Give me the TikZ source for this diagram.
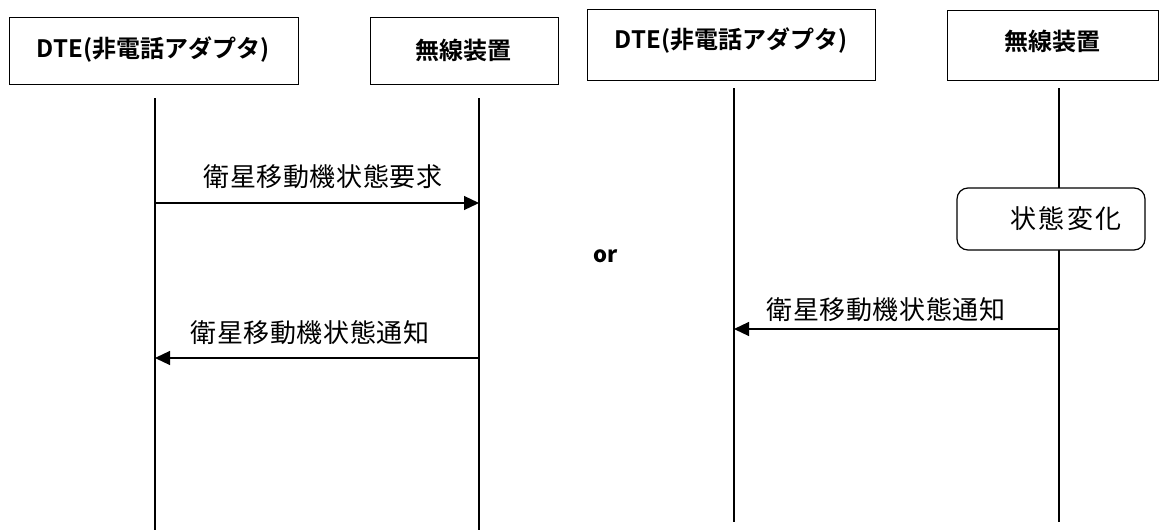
\documentclass[tikz,border=0pt]{standalone}
\usepackage{fontspec}
\setmainfont{Noto Sans CJK JP}
\newfontfamily\jpfont[LetterSpace=2]{Noto Sans CJK JP}
\newfontfamily\jpbold[LetterSpace=0,BoldFont={Noto Sans CJK JP Bold}]{Noto Sans CJK JP}
\newfontfamily\jpwide[LetterSpace=8]{Noto Sans CJK JP}
\usetikzlibrary{arrows.meta}
\begin{document}
\begin{tikzpicture}[x=1pt,y=-1pt,
  entity/.style={draw,line width=1.2pt,inner sep=0pt,anchor=north west},
  entlabel/.style={font=\jpbold\bfseries\fontsize{24}{26}\selectfont},
  lifeline/.style={line width=1.2pt},
  msg/.style={line width=1.2pt,-{Triangle[length=15pt,width=14pt]}},
  msglabel/.style={font=\jpfont\fontsize{26}{28}\selectfont,inner sep=0pt},
  statebox/.style={draw,line width=1.2pt,rounded corners=11pt,fill=white,inner sep=0pt}]
\useasboundingbox (0,0) rectangle (1162,530);
% boxes
\node[entity,minimum width=289pt,minimum height=67pt] (dte1) at (9,17) {};
\node[entlabel] (dte1t) at (153,50) {DTE(非電話アダプタ)};
\node[entity,minimum width=188pt,minimum height=67pt] (rad1) at (370,17) {};
\node[entlabel] (rad1t) at (463,50) {無線装置};
\node[entity,minimum width=288pt,minimum height=71pt] (dte2) at (587,9) {};
\node[entlabel] (dte2t) at (731,41) {DTE(非電話アダプタ)};
\node[entity,minimum width=211pt,minimum height=70pt] (rad2) at (947,10) {};
\node[entlabel] (rad2t) at (1052,41) {無線装置};
% lifelines
\coordinate (l1t) at (155,98);  \coordinate (l1b) at (155,530);
\coordinate (l2t) at (479,98);  \coordinate (l2b) at (479,530);
\coordinate (l3t) at (734,88);  \coordinate (l3b) at (734,522);
\coordinate (l4t) at (1059,88); \coordinate (l4b) at (1059,522);
\draw[lifeline] (l1t) -- (l1b);
\draw[lifeline] (l2t) -- (l2b);
\draw[lifeline] (l3t) -- (l3b);
\draw[lifeline] (l4t) -- (l4b);
% messages left
\coordinate (m1s) at (155,203); \coordinate (m1e) at (479,203);
\draw[msg] (m1s) -- (m1e);
\node[msglabel] (m1l) at (323,177) {衛星移動機状態要求};
\coordinate (m2s) at (479,358); \coordinate (m2e) at (155,358);
\draw[msg] (m2s) -- (m2e);
\node[msglabel] (m2l) at (310,333) {衛星移動機状態通知};
% or
\node[font=\bfseries\fontsize{22}{24}\selectfont,inner sep=0pt] (or) at (606,256) {or};
% right scenario
\node[statebox,minimum width=188pt,minimum height=62pt] (st) at (1051,219) {};
\node[font=\jpwide\fontsize{26}{28}\selectfont,inner sep=0pt] (stt) at (1066,219) {状態変化};
\coordinate (m3s) at (1059,329); \coordinate (m3e) at (734,329);
\draw[msg] (m3s) -- (m3e);
\node[msglabel] (m3l) at (886,310) {衛星移動機状態通知};
\end{tikzpicture}
\end{document}
